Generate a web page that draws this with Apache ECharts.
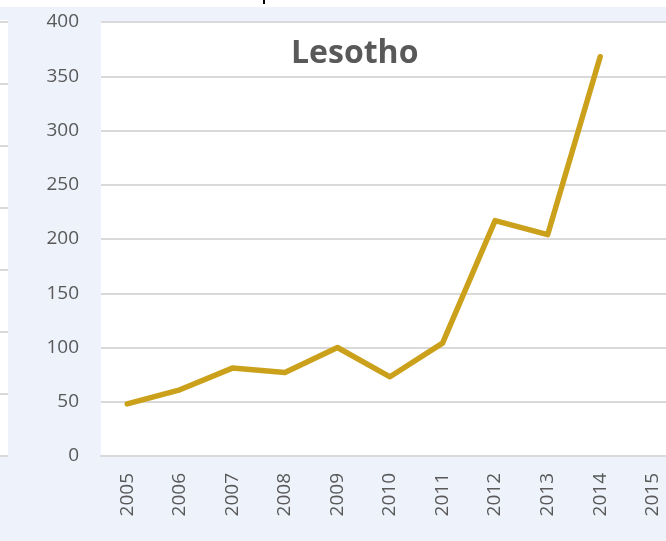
<!DOCTYPE html>
<html>
<head>
<meta charset="utf-8">
<script src="https://cdn.jsdelivr.net/npm/echarts@6/dist/echarts.min.js"></script>
<style>
html,body{margin:0;padding:0;background:#eef2fb;}
#c{width:666px;height:541px;}
</style>
</head>
<body>
<div id="c"></div>
<script>
const title = 'Lesotho';
const years = ['2005','2006','2007','2008','2009','2010','2011','2012','2013','2014','2015'];
const values = [48, 61, 81, 77, 100, 73, 104, 217, 204, 368, null];
const yTicks = { min: 0, max: 400, interval: 50 };

const chart = echarts.init(document.getElementById('c'), null, {renderer: 'canvas'});
const leftGridYs = [22, 84, 146, 208, 270, 332, 394, 456];
const graphics = [
  {type: 'rect', shape: {x: 0, y: 0, width: 666, height: 7}, style: {fill: '#ffffff'}, z: -1},
  {type: 'rect', shape: {x: 263, y: 0, width: 2, height: 4}, style: {fill: '#000000'}, z: -1},
  {type: 'rect', shape: {x: 0, y: 20, width: 8, height: 436}, style: {fill: '#ffffff'}, z: -1}
];
leftGridYs.forEach(y => graphics.push({type: 'line', shape: {x1: 0, y1: y, x2: 8, y2: y}, style: {stroke: '#d9d9d9', lineWidth: 2}, z: -1}));

chart.setOption({
  backgroundColor: '#eef2fb',
  animation: false,
  title: {
    text: title,
    left: 286, top: 33,
    textStyle: {fontFamily: 'Open Sans', fontWeight: 'bold', fontSize: 32, color: '#595959'}
  },
  graphic: graphics,
  grid: {
    left: 101, width: 578, top: 22, height: 434,
    outerBoundsMode: 'none', containLabel: false,
    show: true, backgroundColor: '#ffffff', borderWidth: 0
  },
  xAxis: {
    type: 'category',
    data: years,
    boundaryGap: true,
    axisLine: {lineStyle: {color: '#d9d9d9', width: 2}},
    axisTick: {show: false},
    axisLabel: {rotate: 90, margin: 17, fontSize: 19, fontFamily: 'Open Sans', color: '#595959', interval: 0}
  },
  yAxis: {
    type: 'value',
    min: yTicks.min, max: yTicks.max, interval: yTicks.interval,
    axisLine: {show: false},
    axisTick: {show: false},
    splitLine: {lineStyle: {color: '#d9d9d9', width: 2}},
    axisLabel: {margin: 22, fontSize: 19, fontFamily: 'Open Sans', color: '#595959'}
  },
  series: [{
    type: 'line',
    data: values,
    symbol: 'none',
    lineStyle: {color: '#cba11c', width: 5.5, cap: 'round', join: 'round'},
    connectNulls: false
  }]
});
</script>
</body>
</html>
